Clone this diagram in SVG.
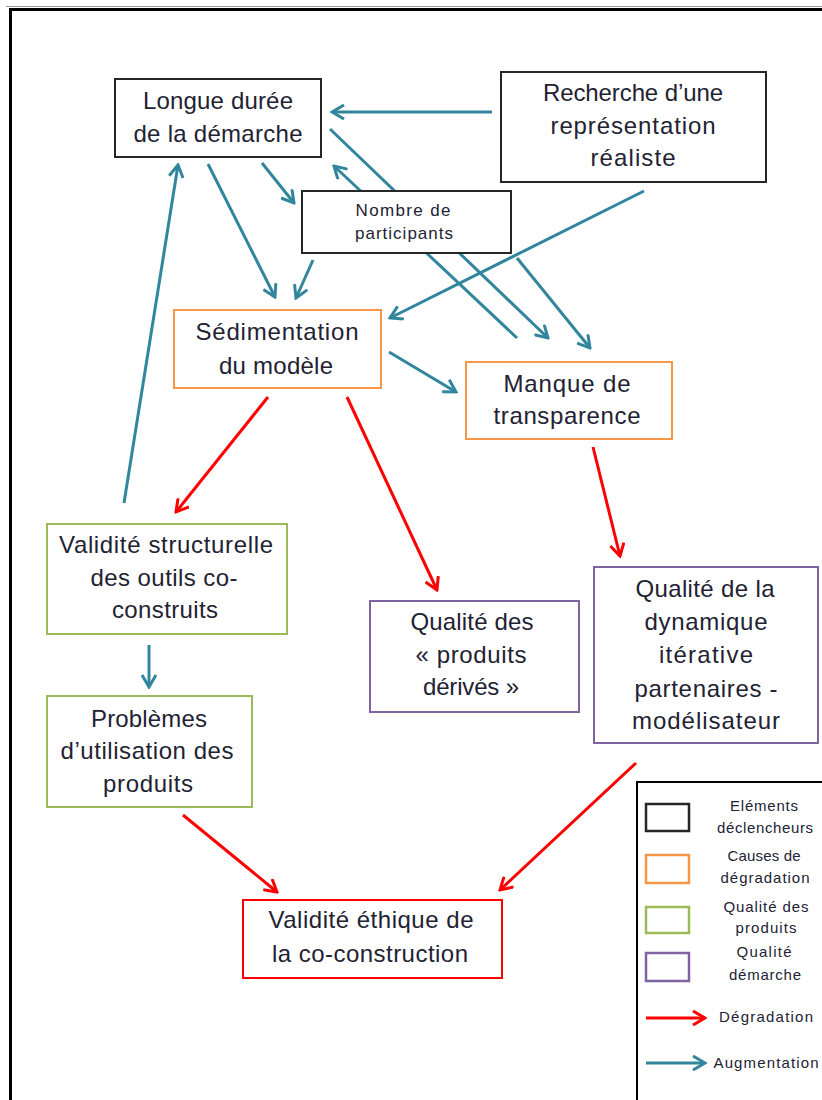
<svg xmlns="http://www.w3.org/2000/svg" width="822" height="1100" viewBox="0 0 822 1100">
  <style>
    .box { fill: #ffffff; stroke-width: 2; }
    .trig { stroke: #262626; }
    .cause { stroke: #F79646; }
    .prod { stroke: #9BBB59; }
    .proc { stroke: #8064A2; }
    .eth { stroke: #FF0000; }
    .lbl { font-family: "Liberation Sans", Arial, sans-serif; font-size: 24px; fill: #222233; text-anchor: middle; }
    .small { font-family: "Liberation Sans", Arial, sans-serif; font-size: 17px; fill: #222233; text-anchor: middle; }
    .leg { font-family: "Liberation Sans", Arial, sans-serif; font-size: 15px; fill: #222233; text-anchor: middle; }
    .up { fill: none; stroke: #31859C; stroke-width: 3; marker-end: url(#headUp); }
    .down { fill: none; stroke: #FF0000; stroke-width: 3; marker-end: url(#headDown); }
  </style>
  <defs>
    <marker id="headUp" viewBox="0 0 16 16" refX="14" refY="8" markerWidth="16" markerHeight="16" markerUnits="userSpaceOnUse" orient="auto">
      <path d="M2,1 L14,8 L2,15" fill="none" stroke="#31859C" stroke-width="3"/>
    </marker>
    <marker id="headDown" viewBox="0 0 16 16" refX="14" refY="8" markerWidth="16" markerHeight="16" markerUnits="userSpaceOnUse" orient="auto">
      <path d="M2,1 L14,8 L2,15" fill="none" stroke="#FF0000" stroke-width="3"/>
    </marker>
  </defs>

  <rect width="822" height="1100" fill="#ffffff"/>

  <!-- page frame -->
  <g id="frame">
    <line x1="6" y1="6.5" x2="822" y2="6.5" stroke="#999999" stroke-width="1"/>
    <line x1="9" y1="9.5" x2="822" y2="9.5" stroke="#000000" stroke-width="3"/>
    <line x1="10.5" y1="8" x2="10.5" y2="1100" stroke="#000000" stroke-width="3"/>
  </g>

  <!-- connectors -->
  <g id="connectors">
    <line class="up" x1="492" y1="112" x2="332" y2="112"/>
    <line class="up" x1="330" y1="129" x2="548" y2="338"/>
    <line class="up" x1="517" y1="338" x2="334" y2="166"/>
    <line class="up" x1="517" y1="258" x2="590" y2="348"/>
    <line class="up" x1="644" y1="191" x2="390" y2="318"/>
    <line class="up" x1="262" y1="163" x2="294" y2="203"/>
    <line class="up" x1="208" y1="164" x2="275" y2="297"/>
    <line class="up" x1="313" y1="260" x2="296" y2="298"/>
    <line class="up" x1="124" y1="503" x2="178" y2="165"/>
    <line class="up" x1="389" y1="352" x2="456" y2="392"/>
    <line class="up" x1="149" y1="645" x2="149" y2="687"/>

    <line class="down" x1="268" y1="397" x2="176" y2="512"/>
    <line class="down" x1="347" y1="397" x2="437" y2="590"/>
    <line class="down" x1="593" y1="447" x2="620" y2="556"/>
    <line class="down" x1="183" y1="815" x2="277" y2="892"/>
    <line class="down" x1="636" y1="763" x2="500" y2="890"/>
  </g>

  <g id="longue-duree">
    <rect class="box trig" x="115" y="79" width="206" height="78"/>
    <text class="lbl" x="218" y="109" textLength="150">Longue durée</text>
    <text class="lbl" x="218" y="142" textLength="169">de la démarche</text>
  </g>

  <g id="recherche">
    <rect class="box trig" x="501" y="72" width="265" height="110"/>
    <text class="lbl" x="633" y="101" textLength="180">Recherche d’une</text>
    <text class="lbl" x="633" y="134" textLength="165">représentation</text>
    <text class="lbl" x="633" y="166" textLength="85">réaliste</text>
  </g>

  <g id="nombre">
    <rect class="box trig" x="302" y="191" width="209" height="62"/>
    <text class="small" x="403" y="216" textLength="95">Nombre de</text>
    <text class="small" x="404" y="239" textLength="98">participants</text>
  </g>

  <g id="sedimentation">
    <rect class="box cause" x="174" y="310" width="207" height="78"/>
    <text class="lbl" x="277" y="340" textLength="163">Sédimentation</text>
    <text class="lbl" x="276" y="374" textLength="114">du modèle</text>
  </g>

  <g id="manque">
    <rect class="box cause" x="466" y="362" width="206" height="77"/>
    <text class="lbl" x="567" y="392" textLength="127">Manque de</text>
    <text class="lbl" x="567" y="424" textLength="147">transparence</text>
  </g>

  <g id="validite-structurelle">
    <rect class="box prod" x="47" y="524" width="240" height="110"/>
    <text class="lbl" x="166" y="553" textLength="214">Validité structurelle</text>
    <text class="lbl" x="164" y="586" textLength="147">des outils co-</text>
    <text class="lbl" x="165" y="618" textLength="106">construits</text>
  </g>

  <g id="problemes">
    <rect class="box prod" x="47" y="696" width="205" height="111"/>
    <text class="lbl" x="149" y="727" textLength="116">Problèmes</text>
    <text class="lbl" x="147" y="759" textLength="173">d’utilisation des</text>
    <text class="lbl" x="148" y="792" textLength="90">produits</text>
  </g>

  <g id="produits-derives">
    <rect class="box proc" x="370" y="601" width="209" height="111"/>
    <text class="lbl" x="472" y="630" textLength="123">Qualité des</text>
    <text class="lbl" x="471" y="663" textLength="111">« produits</text>
    <text class="lbl" x="471" y="695" textLength="96">dérivés »</text>
  </g>

  <g id="dynamique">
    <rect class="box proc" x="594" y="567" width="224" height="176"/>
    <text class="lbl" x="705" y="597" textLength="139">Qualité de la</text>
    <text class="lbl" x="706" y="630" textLength="123">dynamique</text>
    <text class="lbl" x="706" y="663" textLength="94">itérative</text>
    <text class="lbl" x="706" y="697" textLength="143">partenaires -</text>
    <text class="lbl" x="706" y="729" textLength="148">modélisateur</text>
  </g>

  <g id="ethique">
    <rect class="box eth" x="243" y="900" width="259" height="78"/>
    <text class="lbl" x="371" y="928" textLength="205">Validité éthique de</text>
    <text class="lbl" x="370" y="962" textLength="196">la co-construction</text>
  </g>

  <!-- legend -->
  <g id="legend">
    <rect x="637" y="782" width="200" height="330" fill="#ffffff" stroke="#000000" stroke-width="2"/>
    <rect x="646" y="804" width="43" height="27" fill="none" stroke="#262626" stroke-width="2.5"/>
    <rect x="646" y="855" width="43" height="28" fill="none" stroke="#F79646" stroke-width="2.5"/>
    <rect x="646" y="907" width="43" height="26" fill="none" stroke="#9BBB59" stroke-width="2.5"/>
    <rect x="646" y="953" width="43" height="28" fill="none" stroke="#8064A2" stroke-width="2.5"/>
    <line class="down" x1="646" y1="1018" x2="705" y2="1018"/>
    <line class="up" x1="646" y1="1063" x2="705" y2="1063"/>
    <text class="leg" x="764" y="811" textLength="68">Eléments</text>
    <text class="leg" x="765" y="833" textLength="96">déclencheurs</text>
    <text class="leg" x="764" y="861" textLength="73">Causes de</text>
    <text class="leg" x="765" y="883" textLength="89">dégradation</text>
    <text class="leg" x="766" y="912" textLength="85">Qualité des</text>
    <text class="leg" x="766" y="933" textLength="61">produits</text>
    <text class="leg" x="764" y="957" textLength="55">Qualité</text>
    <text class="leg" x="765" y="980" textLength="72">démarche</text>
    <text class="leg" x="766" y="1022" textLength="94">Dégradation</text>
    <text class="leg" x="766" y="1068" textLength="105">Augmentation</text>
  </g>
</svg>
